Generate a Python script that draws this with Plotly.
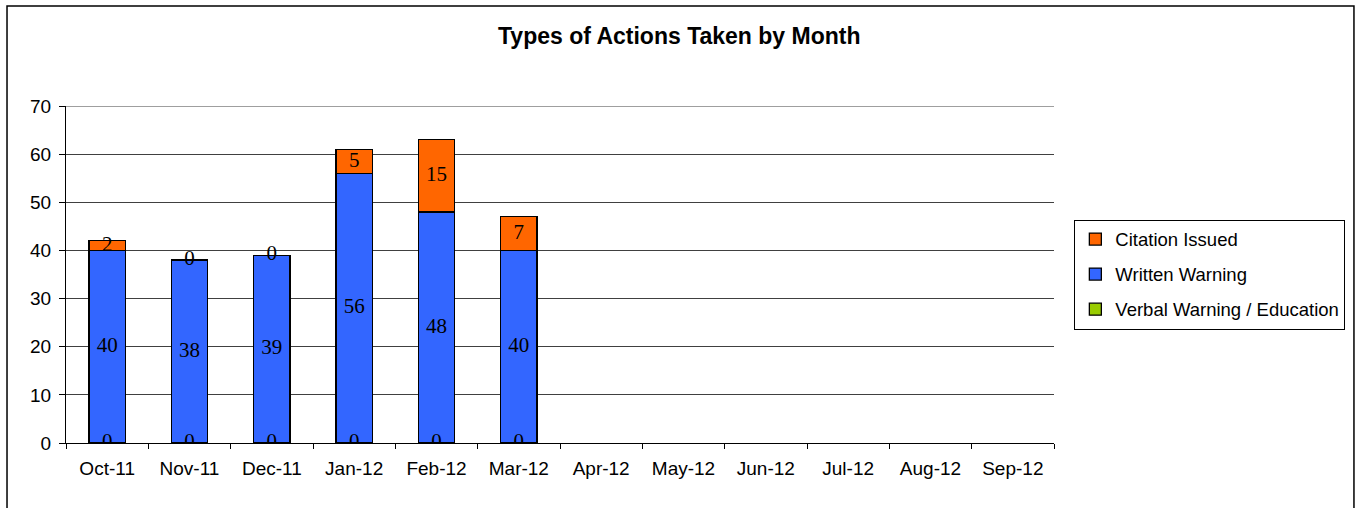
import plotly.graph_objects as go

months = ["Oct-11", "Nov-11", "Dec-11", "Jan-12", "Feb-12", "Mar-12",
          "Apr-12", "May-12", "Jun-12", "Jul-12", "Aug-12", "Sep-12"]
verbal = [0, 0, 0, 0, 0, 0, None, None, None, None, None, None]
written = [40, 38, 39, 56, 48, 40, None, None, None, None, None, None]
citation = [2, 0, 0, 5, 15, 7, None, None, None, None, None, None]

series = [
    ("Verbal Warning / Education", verbal, "#99CC00"),
    ("Written Warning", written, "#3366FF"),
    ("Citation Issued", citation, "#FF6600"),
]

fig = go.Figure()

base = [0] * len(months)
label_x, label_y, label_t = [], [], []
for k, (name, vals, color) in enumerate(series):
    fig.add_trace(go.Bar(
        x=months, y=vals, name=name, legendgroup=name,
        legendrank=1000 - k,  # legend lists top of stack first
        marker=dict(color=color, line=dict(color="black", width=1.3)),
        width=0.44,
    ))
    for i, v in enumerate(vals):
        if v is None:
            continue
        label_x.append(months[i])
        label_y.append(base[i] + v / 2)
        label_t.append(str(v))
        base[i] += v

# data labels, centred in each segment (zeros sit on the segment edge)
fig.add_trace(go.Scatter(
    x=label_x, y=label_y, text=label_t, mode="text",
    textfont=dict(family="Liberation Serif", size=21, color="black"),
    showlegend=False, hoverinfo="skip",
))

fig.update_layout(
    barmode="stack",
    width=1364, height=508,
    margin=dict(l=66, r=310, t=106, b=65),
    paper_bgcolor="white", plot_bgcolor="white",
    font=dict(family="Liberation Sans, Arial", size=19, color="black"),
    title=dict(text="<b>Types of Actions Taken by Month</b>",
               x=0.498, xanchor="center", y=0.929, yanchor="middle",
               font=dict(size=23)),
    legend=dict(
        traceorder="grouped", tracegroupgap=8,
        x=1.0206, xanchor="left", y=0.5, yanchor="middle",
        bordercolor="black", borderwidth=1,
        font=dict(size=18.5),
        itemwidth=30,
    ),
    showlegend=True,
)

fig.update_xaxes(
    type="category", categoryorder="array", categoryarray=months,
    range=[-0.5, 11.5],
    showline=True, linecolor="black", linewidth=1,
    ticks="outside", tickson="boundaries", ticklen=5, tickcolor="black",
    ticklabelstandoff=8,
    showgrid=False,
)
fig.update_yaxes(
    range=[0, 70], dtick=10,
    showline=True, linecolor="black", linewidth=1,
    ticks="outside", ticklen=6, tickcolor="black",
    ticklabelstandoff=4,
    showgrid=True, gridcolor="#404040", gridwidth=1,
    zeroline=False,
)

# top gridline at 70 (plotly skips grid at the range edge)
fig.add_shape(type="line", xref="paper", yref="y", x0=0, x1=1, y0=70, y1=70,
              line=dict(color="#404040", width=1))

# outer chart frame
fig.add_shape(type="rect", xref="paper", yref="paper",
              x0=-0.0597, x1=1.3036, y0=-0.2, y1=1.297,
              line=dict(color="black", width=1.5))

fig.write_html("out.html", config={"displayModeBar": False},
               post_script="document.body.style.margin='0';")
